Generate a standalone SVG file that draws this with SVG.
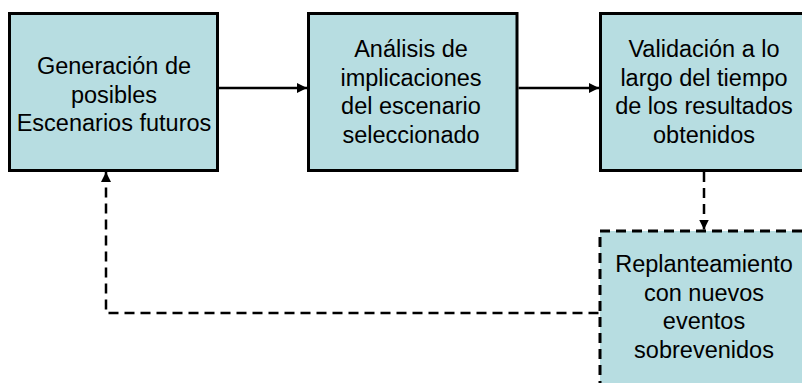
<svg xmlns="http://www.w3.org/2000/svg" width="802" height="383" viewBox="0 0 802 383">
<style>
.box{fill:#B7DDE1;stroke:#000;stroke-width:3}
.dash{stroke-dasharray:10 6}
.t{font-family:"Liberation Sans",Arial,sans-serif;font-size:23.5px;fill:#000;text-anchor:middle}
.c{fill:none;stroke:#000;stroke-width:2.5}
</style>
<defs>
<marker id="ah" viewBox="0 0 10 10" refX="10" refY="5" markerWidth="4" markerHeight="4" orient="auto" markerUnits="strokeWidth">
<path d="M0,0 L10,5 L0,10 z" fill="#000"/>
</marker>
</defs>
<rect width="802" height="383" fill="#fff"/>
<g id="n1">
<rect class="box" x="9.5" y="13.5" width="208" height="157"/>
<text class="t" x="114" y="74">Generación de</text>
<text class="t" x="114" y="102.5">posibles</text>
<text class="t" x="114" y="131">Escenarios futuros</text>
</g>
<g id="n2">
<rect class="box" x="308.5" y="13.5" width="208.5" height="157"/>
<text class="t" x="411" y="57">Análisis de</text>
<text class="t" x="411" y="85.5">implicaciones</text>
<text class="t" x="411" y="114">del escenario</text>
<text class="t" x="411" y="142.5">seleccionado</text>
</g>
<g id="n3">
<rect class="box" x="600.5" y="13.5" width="208" height="157"/>
<text class="t" x="704" y="57">Validación a lo</text>
<text class="t" x="704" y="85.5">largo del tiempo</text>
<text class="t" x="704" y="114">de los resultados</text>
<text class="t" x="704" y="142.5">obtenidos</text>
</g>
<g id="n4">
<rect class="box dash" x="600" y="231" width="208" height="160"/>
<text class="t" x="704" y="272">Replanteamiento</text>
<text class="t" x="704" y="300.5">con nuevos</text>
<text class="t" x="704" y="329">eventos</text>
<text class="t" x="704" y="357.5">sobrevenidos</text>
</g>
<g id="connectors">
<line class="c" x1="219" y1="88" x2="307" y2="88" marker-end="url(#ah)"/>
<line class="c" x1="518.5" y1="88" x2="599" y2="88" marker-end="url(#ah)"/>
<line class="c dash" stroke-width="3" x1="704" y1="172" x2="704" y2="229.5" marker-end="url(#ah)"/>
<polyline class="c dash" stroke-width="3" points="598.5,313 106,313 106,172" marker-end="url(#ah)"/>
</g>
</svg>
